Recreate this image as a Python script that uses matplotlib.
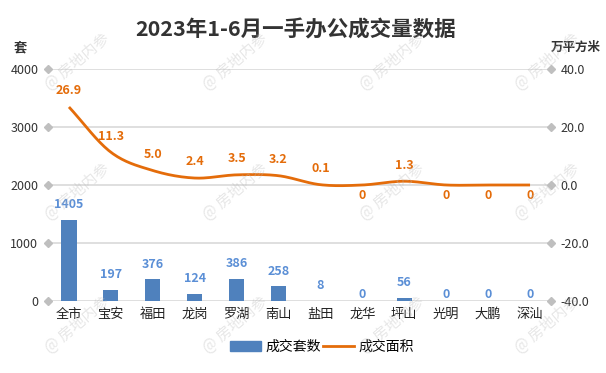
import numpy as np
import matplotlib
matplotlib.use("Agg")
import matplotlib.pyplot as plt

plt.rcParams['font.family'] = ['Noto Sans CJK SC', 'DejaVu Sans']

# Données
districts = ["全市", "宝安", "福田", "龙岗", "罗湖", "南山", "盐田", "龙华", "坪山", "光明", "大鹏", "深汕"]
units = [1405, 197, 376, 124, 386, 258, 8, 0, 56, 0, 0, 0]
area = [26.9, 11.3, 5.0, 2.4, 3.5, 3.2, 0.1, 0, 1.3, 0, 0, 0]
left_ticks = [0, 1000, 2000, 3000, 4000]
right_ticks = [-40, -20, 0, 20, 40]

bar_color = "#4F81BD"
bar_label_color = "#5B8FD6"
line_color = "#E46C0A"
grid_color = "#D9D9D9"


def smooth(x, y, n=20):
    # courbe lissée type Catmull-Rom (comme la "ligne lissée" d'Excel)
    x = np.asarray(x, float)
    y = np.asarray(y, float)
    px = np.concatenate([[2 * x[0] - x[1]], x, [2 * x[-1] - x[-2]]])
    py = np.concatenate([[2 * y[0] - y[1]], y, [2 * y[-1] - y[-2]]])
    xs, ys = [], []
    t = np.linspace(0, 1, n)
    for i in range(1, len(px) - 2):
        for p, out in ((px, xs), (py, ys)):
            p0, p1, p2, p3 = p[i - 1], p[i], p[i + 1], p[i + 2]
            out.extend(0.5 * (2 * p1 + (-p0 + p2) * t
                              + (2 * p0 - 5 * p1 + 4 * p2 - p3) * t ** 2
                              + (-p0 + 3 * p1 - 3 * p2 + p3) * t ** 3))
    return np.array(xs), np.array(ys)


fig = plt.figure(figsize=(6.06, 3.73), dpi=100)
ax = fig.add_axes([48 / 606, 72 / 373, 503 / 606, 232 / 373])
ax2 = ax.twinx()

x = np.arange(len(districts))
ax.bar(x, units, width=0.36, color=bar_color, zorder=3)
for xi, v in zip(x, units):
    ax.annotate(str(v), (xi, v), xytext=(0, 0 if v == 0 else 6),
                textcoords="offset points", ha="center", va="bottom",
                color=bar_label_color, fontsize=9, fontweight="bold")

sx, sy = smooth(x, area)
ax2.plot(sx, sy, color=line_color, lw=2, zorder=4, solid_capstyle="butt")
for xi, v in zip(x, area):
    if v == 0:
        ax2.annotate("0", (xi, v), xytext=(0, -3), textcoords="offset points",
                     ha="center", va="top", color=line_color,
                     fontsize=9, fontweight="bold")
    else:
        ax2.annotate(f"{v:.1f}", (xi, v), xytext=(0, 7), textcoords="offset points",
                     ha="center", va="bottom", color=line_color,
                     fontsize=9, fontweight="bold")

ax.set_xlim(-0.5, len(districts) - 0.5)
ax.set_ylim(0, 4000)
ax2.set_ylim(-40, 40)
ax.set_yticks(left_ticks)
ax.set_yticklabels([str(t) for t in left_ticks])
ax2.set_yticks(right_ticks)
ax2.set_yticklabels([f"{t:.1f}" for t in right_ticks])
ax.set_xticks(x)
ax.set_xticklabels(districts)

# grille + losanges aux extrémités
for t in left_ticks:
    ax.axhline(t, color=grid_color, lw=1.2, zorder=1)
trans = ax.get_yaxis_transform()
ax.plot([0] * len(left_ticks), left_ticks, "D", color="#BFBFBF", ms=4,
        transform=trans, clip_on=False, zorder=2)
ax.plot([1] * len(left_ticks), left_ticks, "D", color="#BFBFBF", ms=4,
        transform=trans, clip_on=False, zorder=2)

for a in (ax, ax2):
    for s in a.spines.values():
        s.set_visible(False)
    a.tick_params(length=0, labelsize=9, colors="#333333")
ax.tick_params(axis="y", pad=7)
ax2.tick_params(axis="y", pad=7)
ax.tick_params(axis="x", pad=5, labelsize=9.5, labelcolor="#222222")

fig.text(296 / 606, 1 - 30 / 373, "2023年1-6月一手办公成交量数据", ha="center", va="center",
         fontsize=15.5, fontweight="bold", color="#333333")
fig.text(20 / 606, 1 - 47 / 373, "套", ha="center", va="center",
         fontsize=9.5, fontweight="bold", color="#333333")
fig.text(601 / 606, 1 - 47 / 373, "万平方米", ha="right", va="center",
         fontsize=9, fontweight="bold", color="#333333")

# légende
h1 = plt.Rectangle((0, 0), 1, 1, color=bar_color)
h2, = ax2.plot([], [], color=line_color, lw=2)
fig.legend([h1, h2], ["成交套数", "成交面积"], loc="center",
           bbox_to_anchor=(322 / 606, 1 - 347 / 373), ncol=2, frameon=False,
           fontsize=10, handlelength=2.2, columnspacing=0.2, handletextpad=0.3)

# filigrane
for wx in (77, 235, 392, 547):
    for wy in (62, 192, 325):
        fig.text(wx / 606, 1 - wy / 373, "@ 房地内参", rotation=40,
                 ha="center", va="center", fontsize=11, color="#BBBBBB",
                 alpha=0.35, zorder=10)

fig.savefig("out.png", dpi=100)
